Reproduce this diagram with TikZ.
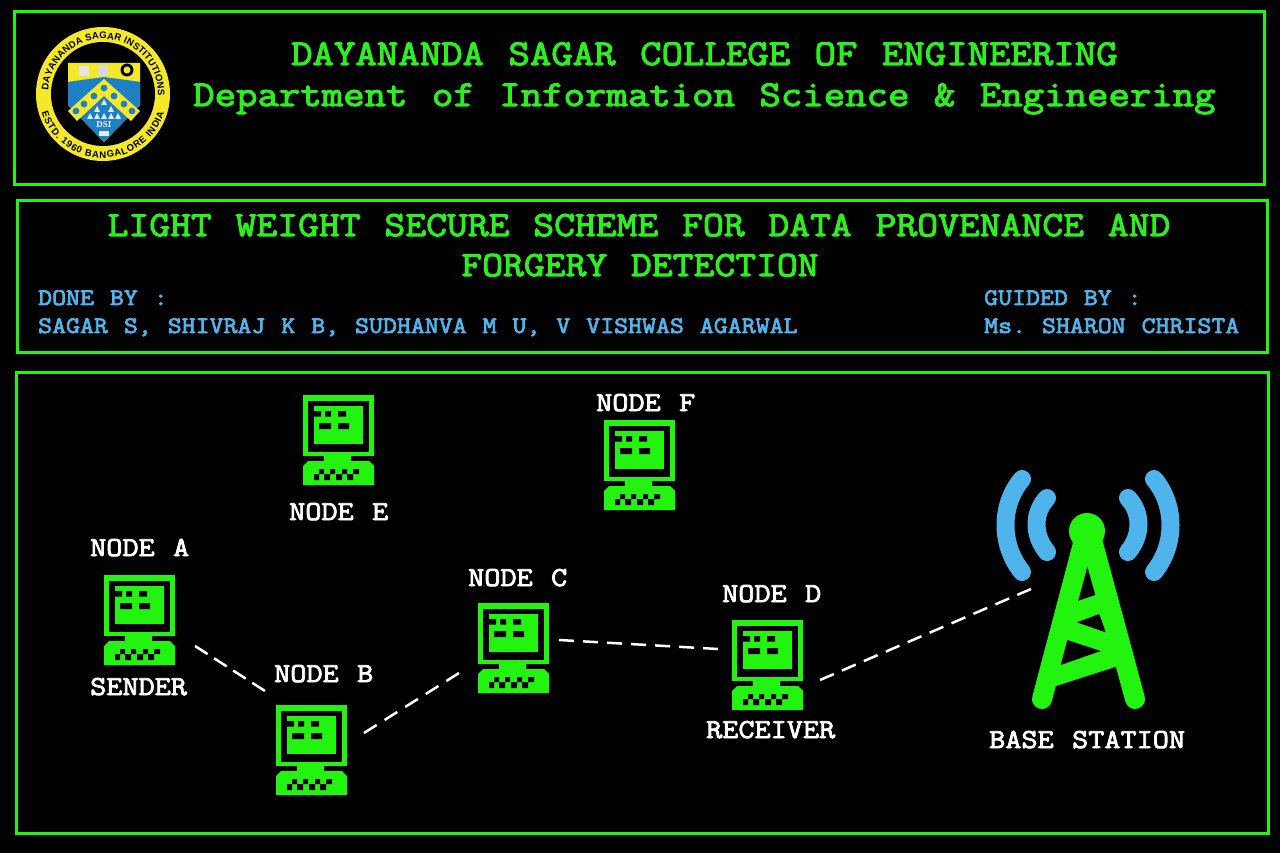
\documentclass[tikz,border=0pt]{standalone}
\usepackage{fontspec}
\usetikzlibrary{decorations.text}
\newfontfamily\cf[FakeStretch=1.143,FakeBold=3,WordSpace=1.143,PunctuationSpace=WordSpace]{Latin Modern Mono}
\newfontfamily\sealf{Liberation Sans Bold}
\newfontfamily\dsif{Liberation Serif Bold}
\definecolor{grn}{HTML}{22F40F}
\definecolor{hdr}{HTML}{2BF01E}
\definecolor{blu}{HTML}{4FB3EC}
\definecolor{ylw}{HTML}{F5E829}
\definecolor{shield}{HTML}{1F7FC4}
\frenchspacing
\tikzset{
 x=1pt,y=-1pt,
 frame/.style={draw=grn,line width=3pt},
 hline/.style={anchor=base west,inner sep=0pt,text=hdr,font=\cf\fontsize{36.4}{37}\selectfont},
 tline/.style={anchor=base,inner sep=0pt,text=hdr,font=\cf\fontsize{35.4}{36}\selectfont},
 credit/.style={anchor=base west,inner sep=0pt,text=blu,font=\cf\fontsize{23.7}{24}\selectfont},
 label/.style={anchor=base west,inner sep=0pt,text=white,font=\cf\fontsize{27.4}{28}\selectfont},
 link/.style={draw=white,line width=2.5pt},
 wave/.style={draw=blu,line width=18pt,line cap=round},
 leg/.style={draw=grn,line width=20pt,line cap=round},
 icon/.style={minimum width=71pt,minimum height=90pt,inner sep=0pt,outer sep=0pt},
 monitor/.pic={
  \fill[grn] (0,0) rectangle (71,61);
  \fill[grn] (21,61) rectangle (48,66);
  \fill[grn] (5,66) -- (66,66) -- (71,71) -- (71,90) -- (0,90) -- (0,71) -- cycle;
  \fill[black] (5,6) rectangle (66,57);
  \fill[grn] (10.5,11) rectangle (59.5,49);
  \fill[black] (11,16) rectangle (18,21.7) (22,16) rectangle (28,21.7) (35,16) rectangle (43,21.7)
               (16,28) rectangle (28,34) (35,28) rectangle (46,34);
  \fill[black] (16,74) rectangle (21,79) (27,74) rectangle (32,79) (39,74) rectangle (44,79) (50,74) rectangle (56,79)
               (11,79) rectangle (16,85) (21,79) rectangle (27,85) (33,79) rectangle (39,85) (44,79) rectangle (50,85);
 }
}
\begin{document}
\begin{tikzpicture}
\useasboundingbox (0,0) rectangle (1280,853);
\fill[black] (0,0) rectangle (1280,853);
% frames
\draw[frame] (14,12) rectangle (1264,185);
\draw[frame] (17,201) rectangle (1267,352);
\draw[frame] (16,372) rectangle (1268,833);
% heading
\node[hline] (college) at (291,65) {DAYANANDA SAGAR COLLEGE OF ENGINEERING};
\node[hline] (dept) at (193,106) {Department of Information Science \& Engineering};
\node[tline] (title1) at (639,236) {LIGHT WEIGHT SECURE SCHEME FOR DATA PROVENANCE AND};
\node[tline] (title2) at (640,276) {FORGERY DETECTION};
\node[credit] (doneby) at (38,305) {DONE BY :};
\node[credit] (names) at (38,333) {SAGAR S, SHIVRAJ K B, SUDHANVA M U, V VISHWAS AGARWAL};
\node[credit] (guidedby) at (984,305) {GUIDED BY :};
\node[credit] (guide) at (984,333) {Ms. SHARON CHRISTA};
% seal
\begin{scope}[shift={(103,94)},x=1pt,y=1pt]
 \fill[ylw] (0,0) circle (67pt);
 \fill[black] (0,0) circle (52pt);
 \path[decorate,decoration={text along path,text align=fit to path,
   text={|\sealf\fontsize{9.5}{10}\selectfont|DAYANANDA SAGAR INSTITUTIONS}}]
   (176:55pt) arc (176:-2:55pt);
 \path[decorate,decoration={text along path,text align=fit to path,
   text={|\sealf\fontsize{9.5}{10}\selectfont|ESTD. 1960 BANGALORE INDIA}}]
   (197:64pt) arc (197:343:64pt);
 \begin{scope}[x=1pt,y=-1pt]
  \fill[ylw] (-35,-31) -- (37,-31) -- (37,11) -- (1,48) -- (-35,11) -- cycle;
  \fill[shield] (-35,-12) .. controls (-15,-15) and (-5,-16) .. (1,-17) .. controls (15,-15) and (25,-14) .. (37,-12) -- (37,11) -- (1,48) -- (-35,11) -- cycle;
  \fill[ylw] (1,-15) -- (37,17) -- (28,27) -- (1,2) -- (-26,27) -- (-35,17) -- cycle;
  \foreach \p in {(1,-6),(-9,2),(11,2),(-19,10),(21,10),(-27,17),(29,17)}
    \fill[shield] \p circle (3.4);
  \foreach \p in {(1,8),(-6,15),(8,15),(-13,22),(1,22),(15,22),(-6,22),(8,22)}
    \fill[white!85!shield] \p ++(0,-3) -- ++(3,6) -- ++(-6,0) -- cycle;
  \fill[black!10] (-24,-28) rectangle (-14,-18);
  \fill[white!85!black] (-5,-29) rectangle (5,-18);
  \fill[black] (24,-24) circle (6.5);
  \fill[ylw] (24,-24) circle (3.5);
  \node[inner sep=0pt,text=white,font=\dsif\fontsize{9}{9}\selectfont] (dsi) at (1,31) {DSI};
  \fill[white!85!shield] (-4,37) rectangle (6,42);
 \end{scope}
\end{scope}
% computers
\pic at (104,575) {monitor};
\node[icon] (A) at (139.5,620) {};
\pic at (276,705) {monitor};
\node[icon] (B) at (311.5,750) {};
\pic at (478,603) {monitor};
\node[icon] (C) at (513.5,648) {};
\pic at (732,620) {monitor};
\node[icon] (D) at (767.5,665) {};
\pic at (303,395) {monitor};
\node[icon] (E) at (338.5,440) {};
\pic at (604,420) {monitor};
\node[icon] (F) at (639.5,465) {};
% labels
\node[label] (la) at (90,556) {NODE A};
\node[label] (ls) at (90,695) {SENDER};
\node[label] (lb) at (274,682) {NODE B};
\node[label] (lc) at (468,586) {NODE C};
\node[label] (ld) at (722,602) {NODE D};
\node[label] (lr) at (706,738) {RECEIVER};
\node[label] (le) at (289,520) {NODE E};
\node[label] (lf) at (596,411) {NODE F};
\node[label] (lbs) at (989,748) {BASE STATION};
% tower
\fill[grn] (1080,540) -- (1094,540) -- (1118,666) -- (1053,687) -- cycle;
\draw[leg] (1042,699) -- (1084,540);
\draw[leg] (1135,699) -- (1092,540);
\fill[grn] (1087,531) circle (18pt);
\fill[black] (1087.3,566.7) -- (1078.3,600.7) -- (1095.3,595) -- cycle;
\fill[black] (1099.3,614) -- (1076.7,622.3) -- (1105.7,632.3) -- cycle;
\fill[black] (1067.3,640) -- (1100.7,651) -- (1060.7,665) -- cycle;
\draw[wave] (1022,479) .. controls (1000,505) and (1000,545) .. (1022,572);
\draw[wave] (1047,498) .. controls (1033,513) and (1033,535) .. (1047,552);
\draw[wave] (1154,479) .. controls (1176,505) and (1176,545) .. (1154,572);
\draw[wave] (1128,498) .. controls (1142,513) and (1142,535) .. (1128,552);
\coordinate (mast) at (1031,589);
% connectors
\draw[link,dash pattern=on 15pt off 7.7pt] ([shift={(20,26)}]A.east) -- ([shift={(-11,-59)}]B.west);
\draw[link,dash pattern=on 15pt off 9.35pt] ([shift={(17,-17)}]B.east) -- ([shift={(-19,25)}]C.west);
\draw[link,dash pattern=on 15pt off 9.05pt] ([shift={(10,-8)}]C.east) -- ([shift={(-14,-16)}]D.west);
\draw[link,dash pattern=on 15pt off 8.87pt] ([shift={(17,15)}]D.east) -- (mast);
\end{tikzpicture}
\end{document}
